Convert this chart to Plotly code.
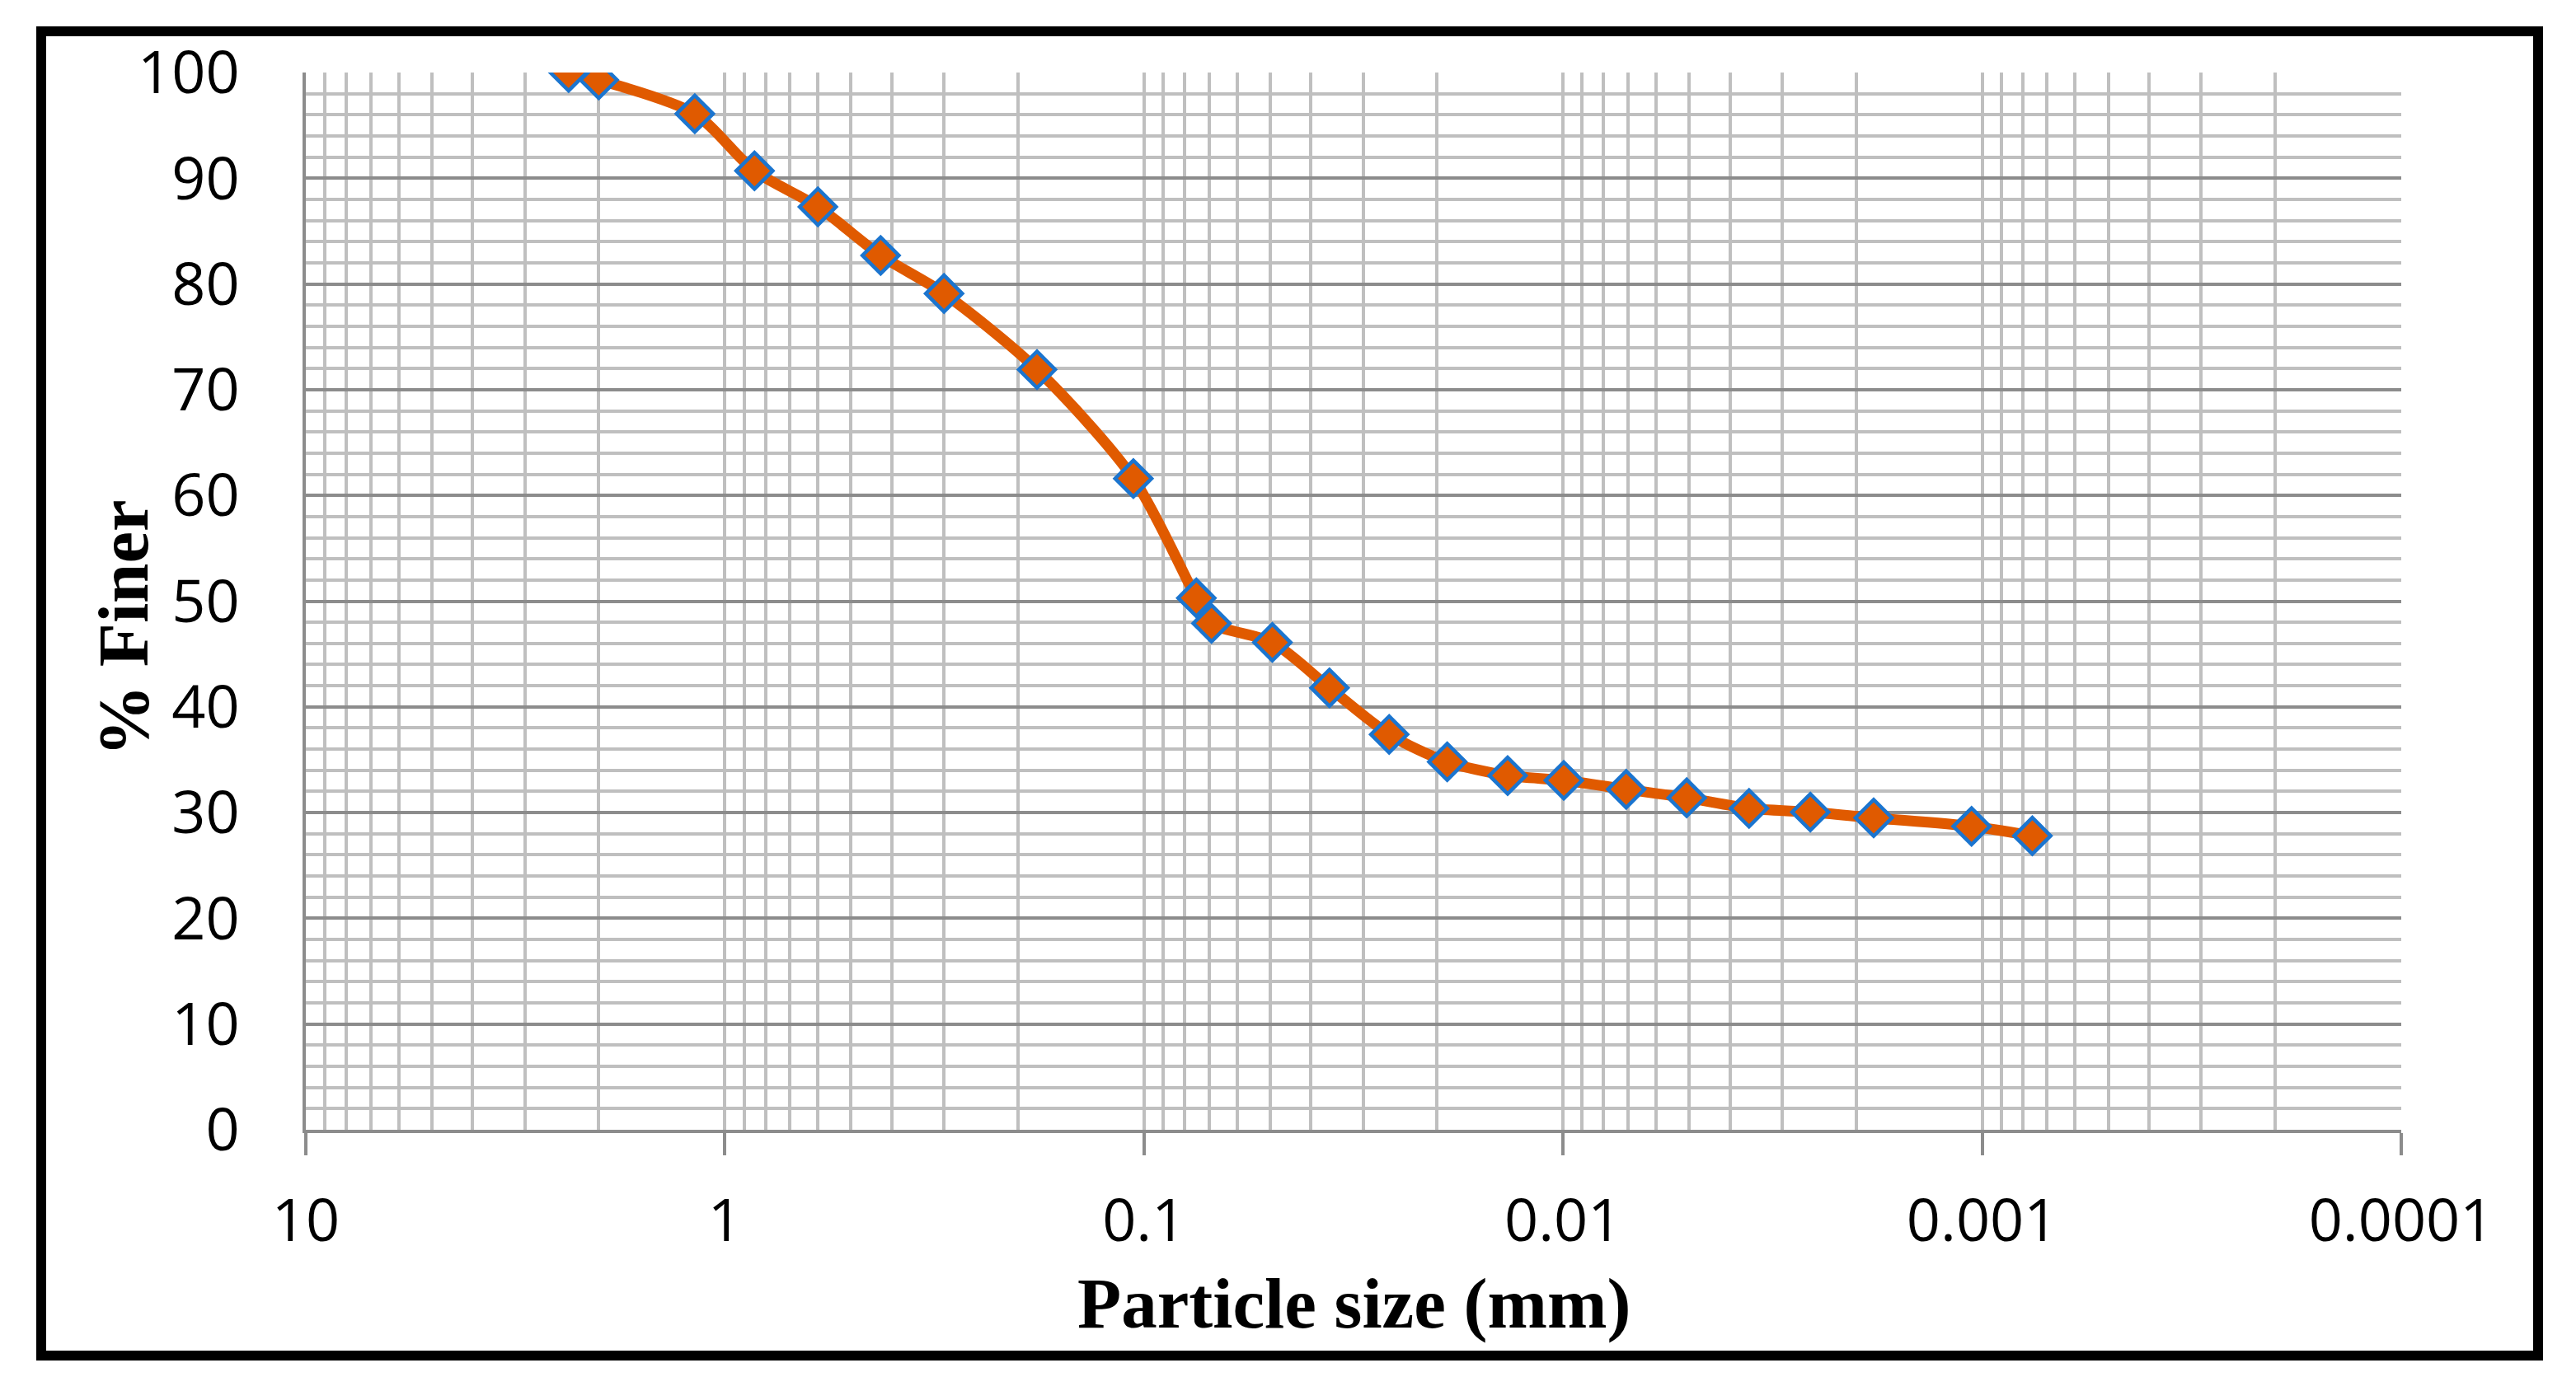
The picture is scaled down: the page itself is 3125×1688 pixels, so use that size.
import plotly.graph_objects as go

# particle size (mm) and percent finer
particle_size = [2.36, 2.0, 1.18, 0.85, 0.6, 0.425, 0.3, 0.18, 0.106, 0.075,
                 0.069, 0.0494, 0.0361, 0.026, 0.0189, 0.01356, 0.00996, 0.00707,
                 0.00507, 0.0036, 0.00257, 0.001815, 0.00106, 0.000759]
percent_finer = [100.0, 99.3, 96.1, 90.7, 87.3, 82.7, 79.1, 71.9, 61.6, 50.3,
                 47.9, 46.1, 41.8, 37.4, 34.8, 33.5, 33.05, 32.2,
                 31.4, 30.4, 30.05, 29.5, 28.7, 27.8]

x_tick_vals = [10, 1, 0.1, 0.01, 0.001, 0.0001]
x_tick_text = ["10", "1", "0.1", "0.01", "0.001", "0.0001"]
x_minor_vals = [k * 10.0 ** e for e in range(-4, 1) for k in range(2, 10)]

# the page body adds an 8px margin, so work in page pixels and shift back
OFF = 8
W, H = 3125, 1688
L, T = 371 - OFF, 88 - OFF
R, B = W - (2913 - OFF), H - (1371 - OFF)
pw, ph = W - L - R, H - T - B


def px(x):
    return (x - OFF - L) / pw


def py(y):
    return (H - B - (y - OFF)) / ph


major_grey = "#8C8C8C"
minor_grey = "#BFBFBF"
grid_w = 4
tick_font = dict(family="Open Sans, Liberation Sans, sans-serif", size=72, color="black")
title_font = dict(family="Liberation Serif, serif", size=87, color="black")

trace = go.Scatter(
    x=particle_size,
    y=percent_finer,
    mode="lines+markers",
    line=dict(color="#E05A00", width=13, shape="spline", smoothing=0.8),
    marker=dict(symbol="diamond", size=34, color="#E05A00",
                line=dict(color="#1B75CF", width=4.5)),
    showlegend=False,
)

fig = go.Figure(data=[trace])

fig.update_layout(
    width=W,
    height=H,
    margin=dict(l=L, r=R, t=T, b=B),
    plot_bgcolor="white",
    paper_bgcolor="white",
    xaxis=dict(
        type="log",
        range=[1, -4],
        tickvals=x_tick_vals,
        ticktext=x_tick_text,
        tickfont=tick_font,
        showgrid=True,
        gridcolor=minor_grey,
        gridwidth=grid_w,
        minor=dict(tickvals=x_minor_vals, showgrid=True, gridcolor=minor_grey,
                   gridwidth=grid_w, ticks=""),
        showline=True,
        linecolor=major_grey,
        linewidth=grid_w,
        ticks="outside",
        ticklen=27,
        tickwidth=grid_w,
        tickcolor=major_grey,
        ticklabelstandoff=18,
        zeroline=False,
    ),
    yaxis=dict(
        range=[0, 100],
        dtick=10,
        tickfont=tick_font,
        showgrid=True,
        gridcolor=major_grey,
        gridwidth=grid_w,
        minor=dict(dtick=2, showgrid=True, gridcolor=minor_grey, gridwidth=grid_w, ticks=""),
        showline=True,
        linecolor=major_grey,
        linewidth=grid_w,
        ticks="",
        ticklabelstandoff=62,
        zeroline=False,
    ),
    annotations=[
        dict(text="<b>Particle size (mm)</b>", x=0.5, y=py(1582), xref="paper", yref="paper",
             xanchor="center", yanchor="middle", showarrow=False, font=title_font),
        dict(text="<b>% Finer</b>", x=px(150), y=py(762), xref="paper", yref="paper",
             xanchor="center", yanchor="middle", textangle=-90, showarrow=False,
             font=title_font),
    ],
    shapes=[
        dict(type="rect", xref="paper", yref="paper",
             x0=px(50), x1=px(3079), y0=py(38), y1=py(1645),
             line=dict(color="black", width=12), fillcolor="rgba(0,0,0,0)", layer="above"),
    ],
)

fig.write_html("out.html")
